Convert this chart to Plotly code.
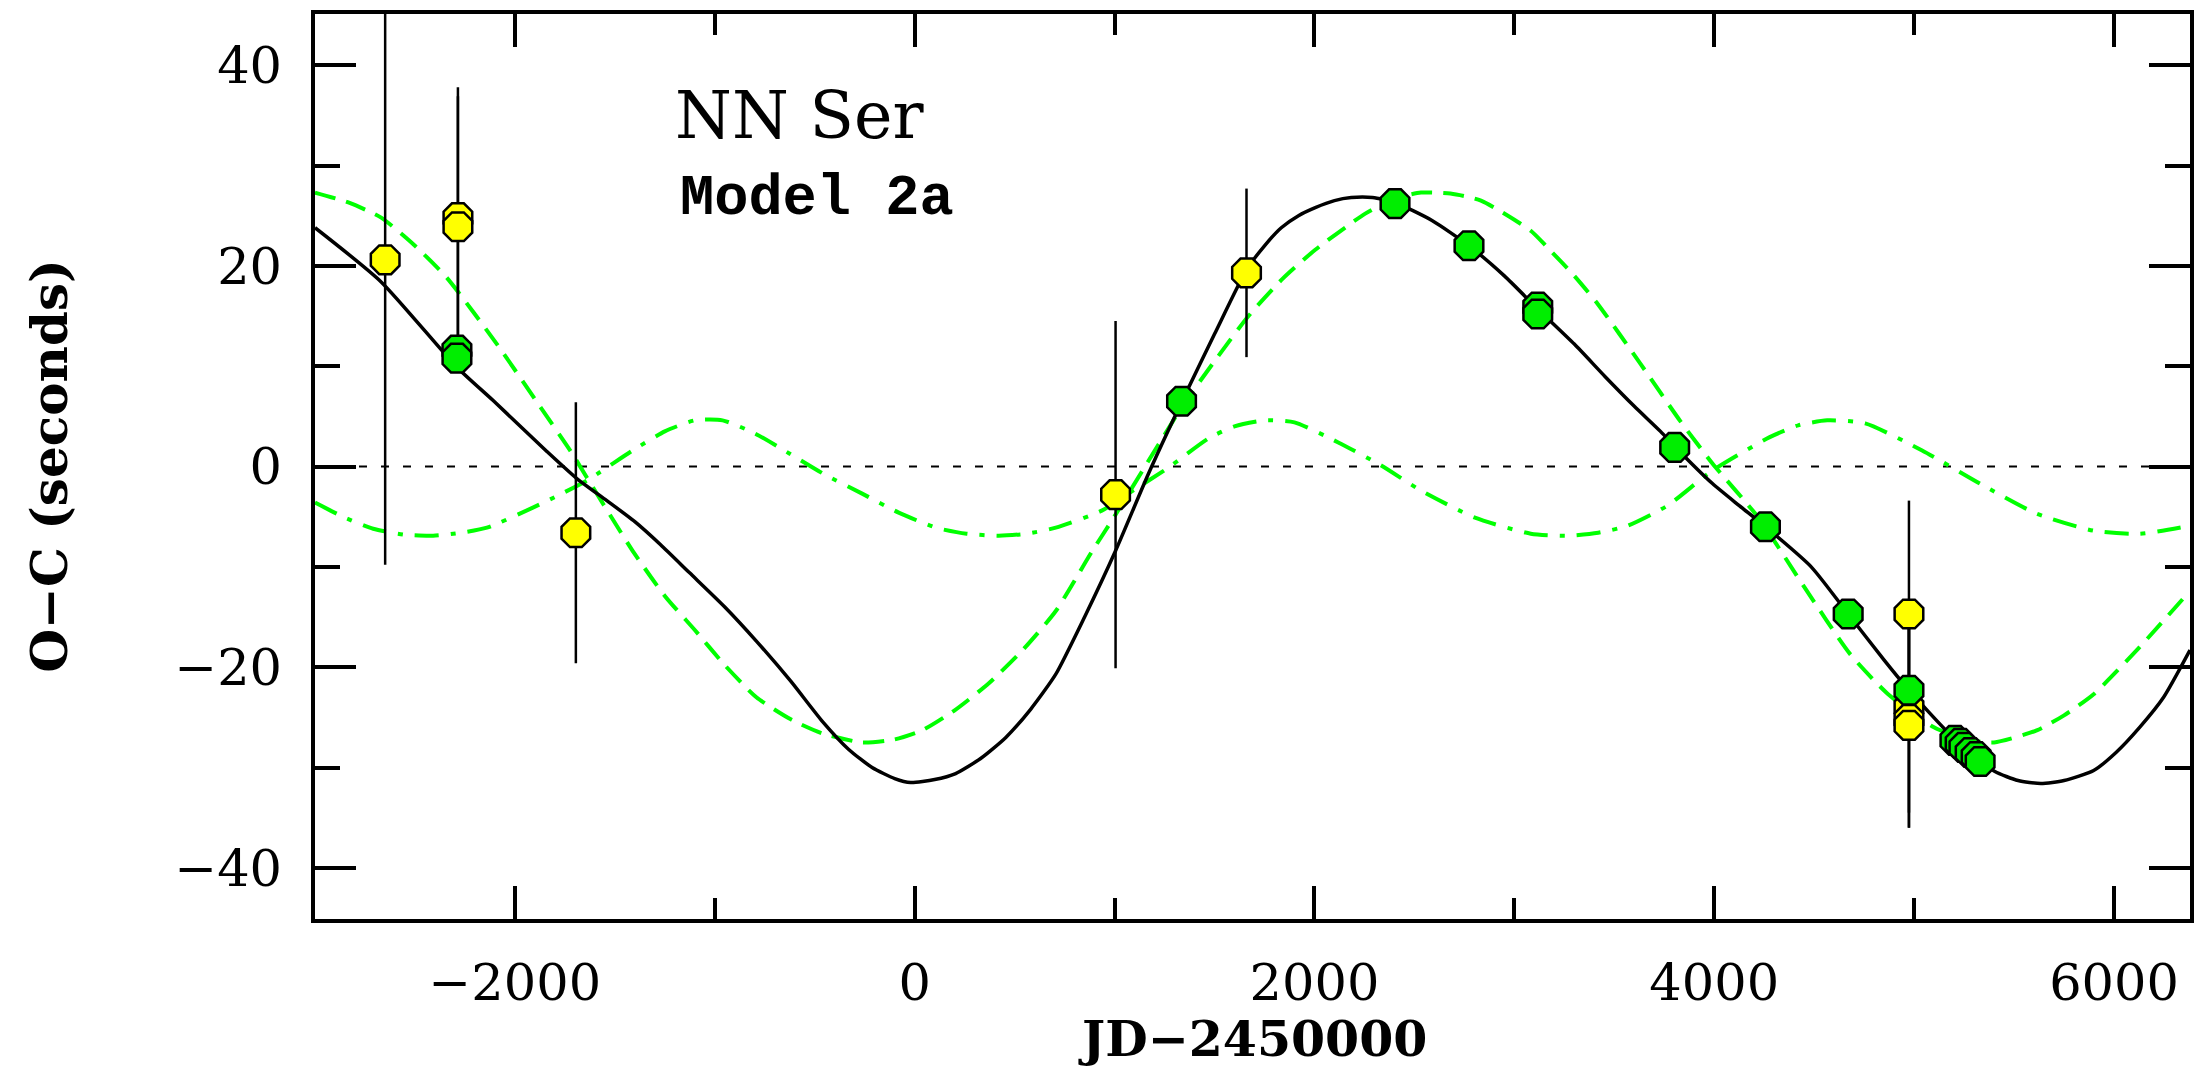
import plotly.graph_objects as go

# ---------------- data ----------------
# yellow points (x, y, error)
yel_x = [-2649, -2285, -2285, -1695, 1005, 1660, 4974, 4974, 4974, 4974]
yel_y = [20.6, 24.8, 23.9, -6.6, -2.8, 19.3, -14.7, -24.0, -25.2, -25.8]
yel_err = [30.4, 13.0, 13.0, 13.0, 17.3, 8.4, 11.3, 10.5, 10.8, 10.2]

# green points
grn_x = [-2290, -2290, 1335, 2403, 2773, 3117, 3117, 3802, 4256, 4670, 4974,
         5204, 5230, 5249, 5280, 5310, 5330]
grn_y = [11.6, 10.8, 6.5, 26.2, 22.0, 15.9, 15.2, 1.9, -6.0, -14.7, -22.3,
         -27.3, -27.6, -28.0, -28.5, -28.9, -29.4]

# full model (black solid)
blk_x = [-3000, -2669, -2290, -2110, -1840, -1690, -1540, -1400, -1271, -1126,
         -950, -792, -620, -462, -330, -213, -100, -20, 100, 205, 330, 456,
         580, 706, 850, 1005, 1170, 1335, 1500, 1660, 1750, 1834, 1920, 2004,
         2100, 2184, 2290, 2403, 2590, 2773, 2950, 3117, 3300, 3452, 3600,
         3731, 3802, 3991, 4125, 4256, 4485, 4670, 4850, 4974, 5174, 5300,
         5404, 5520, 5634, 5750, 5898, 6010, 6128, 6248, 6380]
blk_y = [23.8, 18.4, 9.9, 6.6, 1.5, -1.2, -3.4, -5.5, -7.8, -10.6,
         -14.0, -17.4, -21.4, -25.4, -28.2, -30.0, -31.1, -31.5, -31.2, -30.6, -29.1, -27.0,
         -24.2, -20.7, -15.0, -8.4, -0.7, 6.4, 13.2, 19.6, 22.0, 23.8, 25.0, 25.8,
         26.5, 26.8, 26.8, 26.3, 24.5, 22.0, 19.0, 15.7, 12.2, 9.0, 6.0,
         3.5, 2.0, -1.7, -3.9, -6.0, -10.0, -14.7, -19.3, -22.3, -26.6, -28.8,
         -30.4, -31.3, -31.6, -31.3, -30.3, -28.5, -26.0, -23.0, -18.3]

# outer component (green dashed)
dsh_x = [-3000, -2830, -2669, -2500, -2340, -2090, -1875, -1720, -1640, -1411,
         -1250, -1100, -950, -792, -620, -462, -263, -100, 37, 200, 371, 540,
         706, 886, 1005, 1140, 1270, 1335, 1500, 1670, 1840, 2004, 2254, 2400,
         2533, 2680, 2833, 3082, 3167, 3300, 3417, 3632, 3831, 3991, 4221,
         4450, 4680, 4870, 5099, 5250, 5400, 5613, 5750, 5898, 6128, 6380]
dsh_y = [27.3, 26.3, 24.8, 22.0, 18.8, 12.2, 6.0, 1.5, -1.1, -8.4,
         -12.9, -16.3, -19.8, -23.0, -25.2, -26.6, -27.5, -27.2, -26.3, -24.3, -21.6, -18.3,
         -14.4, -8.5, -4.8, -0.4, 3.8, 5.9, 10.5, 15.0, 18.7, 21.6, 25.2, 26.7,
         27.3, 27.2, 26.5, 23.5, 21.8, 19.0, 16.2, 10.2, 4.5, 0.3, -5.1,
         -12.0, -18.7, -22.7, -26.0, -27.2, -27.5, -26.3, -24.8, -22.7, -18.0, -12.4]

# inner component (green dash-dot)
dd_x = [-3000, -2850, -2709, -2550, -2409, -2270, -2140, -1910, -1775, -1640,
        -1411, -1250, -1100, -961, -800, -627, -450, -263, -80, 107, 260, 421,
        560, 706, 936, 1100, 1270, 1470, 1600, 1754, 1900, 2119, 2334, 2533,
        2803, 3082, 3267, 3420, 3567, 3766, 3991, 4275, 4420, 4565, 4755,
        5040, 5329, 5613, 5898, 6128, 6380]
dd_y = [-3.6, -5.1, -6.2, -6.8, -6.9, -6.6, -6.1, -4.1, -2.8, -1.4,
        1.6, 3.5, 4.6, 4.6, 3.3, 1.3, -0.8, -2.7, -4.6, -6.1, -6.7, -6.9,
        -6.7, -6.1, -4.4, -2.3, -0.1, 2.8, 4.0, 4.6, 4.4, 2.4, 0.1, -2.4,
        -5.1, -6.7, -6.9, -6.6, -5.9, -3.9, -0.4, 2.9, 4.1, 4.6, 4.3,
        1.6, -1.7, -4.7, -6.4, -6.7, -5.9]

zero_x = [-3000, 6380]
zero_y = [0, 0]

x_ticks = [-2000, 0, 2000, 4000, 6000]
x_tick_text = ["\u22122000", "0", "2000", "4000", "6000"]
y_ticks = [-40, -20, 0, 20, 40]
y_tick_text = ["\u221240", "\u221220", "0", "20", "40"]

x_range = [-3000, 6380]
y_range = [-45.1, 45.1]

title_text = "NN Ser"
subtitle_text = "Model 2a"
x_title = "JD\u22122450000"
y_title = "O\u2212C (seconds)"

# ---------------- figure ----------------
FONT = "DejaVu Serif"
LINE_GREEN = "#00FF00"
MARK_GREEN = "#00EE00"
YELLOW = "#FFFF00"

fig = go.Figure()

fig.add_trace(go.Scatter(x=zero_x, y=zero_y, mode="lines",
                         line=dict(color="black", width=2, dash="8px,14px"),
                         hoverinfo="skip"))
fig.add_trace(go.Scatter(x=dd_x, y=dd_y, mode="lines",
                         line=dict(color=LINE_GREEN, width=4, shape="spline", smoothing=0.6,
                                   dash="24px,12px,5px,12px")))
fig.add_trace(go.Scatter(x=dsh_x, y=dsh_y, mode="lines",
                         line=dict(color=LINE_GREEN, width=4, shape="spline", smoothing=0.6,
                                   dash="21px,11px")))
fig.add_trace(go.Scatter(x=blk_x, y=blk_y, mode="lines",
                         line=dict(color="black", width=3.5, shape="spline", smoothing=0.6)))

fig.add_trace(go.Scatter(x=yel_x, y=yel_y, mode="markers",
                         marker=dict(symbol="octagon", size=31, color=YELLOW,
                                     line=dict(color="black", width=2.5)),
                         error_y=dict(type="data", array=yel_err, visible=True,
                                      color="black", thickness=2.5, width=0)))
fig.add_trace(go.Scatter(x=grn_x, y=grn_y, mode="markers",
                         marker=dict(symbol="octagon", size=31, color=MARK_GREEN,
                                     line=dict(color="black", width=2.5))))

axis_common = dict(showgrid=False, zeroline=False, showline=True, linecolor="black",
                   linewidth=3.5, mirror="ticks", ticks="inside", tickcolor="black",
                   tickwidth=3.5, tickfont=dict(family=FONT, size=51, color="black"))

fig.update_xaxes(range=x_range, tickvals=x_ticks, ticktext=x_tick_text, ticklen=33,
                 ticklabelstandoff=16,
                 minor=dict(dtick=1000, tick0=0, ticks="inside", ticklen=21,
                            tickwidth=3.5, tickcolor="black"),
                 **axis_common)
fig.update_yaxes(range=y_range, tickvals=y_ticks, ticktext=y_tick_text, ticklen=41,
                 ticklabelstandoff=19,
                 minor=dict(dtick=10, tick0=0, ticks="inside", ticklen=25,
                            tickwidth=3.5, tickcolor="black"),
                 **axis_common)

fig.add_annotation(x=-1211, y=35.0, xref="x", yref="y", text=title_text, showarrow=False,
                   xanchor="left", yanchor="middle",
                   font=dict(family=FONT, size=65, color="black"))
fig.add_annotation(x=-1186, y=26.7, xref="x", yref="y", text="<b>" + subtitle_text + "</b>",
                   showarrow=False, xanchor="left", yanchor="middle",
                   font=dict(family="Liberation Mono", size=57, color="black"))

fig.add_annotation(x=0.5, y=0, xref="paper", yref="paper", yshift=-120,
                   text="<b>" + x_title + "</b>", showarrow=False, xanchor="center",
                   yanchor="middle", font=dict(family=FONT, size=49, color="black"))
fig.add_annotation(x=0, y=0.5, xref="paper", yref="paper", xshift=-266,
                   text="<b>" + y_title + "</b>", showarrow=False, textangle=-90,
                   xanchor="center", yanchor="middle",
                   font=dict(family=FONT, size=50, color="black"))

fig.update_layout(width=2200, height=1068, showlegend=False,
                  plot_bgcolor="white", paper_bgcolor="white",
                  margin=dict(l=315, r=6, t=14, b=149))

fig.write_html("out.html")
